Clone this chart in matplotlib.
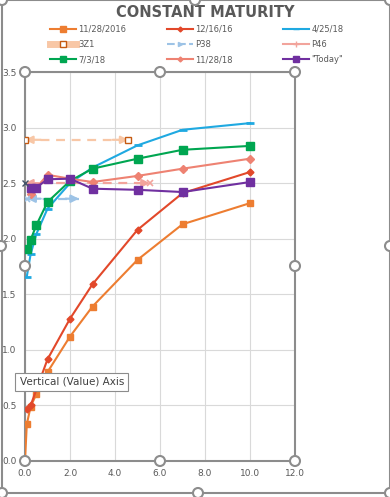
import matplotlib.pyplot as plt
from matplotlib.lines import Line2D
from matplotlib.patches import Rectangle, Circle

# maturities in years
x_2016 = [0.0, 0.08, 0.25, 0.5, 1, 2, 3, 5, 7, 10]
y_2016 = [0.0, 0.33, 0.49, 0.60, 0.80, 1.12, 1.39, 1.81, 2.13, 2.32]

x_dec16 = [0.08, 0.25, 1, 2, 3, 5, 7, 10]
y_dec16 = [0.47, 0.50, 0.915, 1.28, 1.59, 2.08, 2.41, 2.60]

x_apr18 = [0.08, 0.25, 0.5, 1, 2, 3, 5, 7, 10]
y_apr18 = [1.66, 1.86, 2.04, 2.27, 2.50, 2.64, 2.84, 2.98, 3.04]

x_jul18 = [0.08, 0.25, 0.5, 1, 2, 3, 5, 7, 10]
y_jul18 = [1.91, 1.99, 2.12, 2.33, 2.52, 2.63, 2.72, 2.80, 2.835]

x_nov18 = [0.25, 1, 2, 3, 5, 7, 10]
y_nov18 = [2.40, 2.575, 2.54, 2.51, 2.565, 2.63, 2.72]

x_today = [0.25, 0.5, 1, 2, 3, 5, 7, 10]
y_today = [2.46, 2.46, 2.535, 2.54, 2.45, 2.44, 2.42, 2.51]

x_3z1 = [0.0, 4.6]
y_3z1 = [2.89, 2.89]
x_p38 = [0.1, 2.4]
y_p38 = [2.36, 2.36]
x_p46 = [0.0, 5.55]
y_p46 = [2.50, 2.50]

xticks = [0, 2, 4, 6, 8, 10, 12]
yticks = [0.0, 0.5, 1.0, 1.5, 2.0, 2.5, 3.0, 3.5]

c_or = '#ED7D31'
c_red = '#E2482A'
c_blue = '#1FA9E1'
c_green = '#00A651'
c_salm = '#EE8272'
c_purp = '#7030A0'
c_peach = '#F8C7A6'
c_lblue = '#9DC3E6'
c_p46 = '#F2A49C'
grey = '#595959'

fig = plt.figure(figsize=(3.9, 4.97), dpi=100)
ax = fig.add_axes([25/390, 1-461/497, 270/390, 389/497])

lw = 1.5
ax.plot(x_2016, y_2016, color=c_or, lw=lw, marker='s', ms=4.5, zorder=3)
ax.plot(x_dec16, y_dec16, color=c_red, lw=lw, marker='D', ms=3.5, zorder=3)
ax.plot(x_apr18, y_apr18, color=c_blue, lw=lw, marker='_', ms=6, mew=2, zorder=3)
ax.plot(x_jul18, y_jul18, color=c_green, lw=lw, marker='s', ms=5.5, zorder=3)
ax.plot(x_nov18, y_nov18, color=c_salm, lw=lw, marker='D', ms=4, zorder=3)
ax.plot(x_today, y_today, color=c_purp, lw=lw, marker='s', ms=5.5, zorder=4)


def arrow_line(xs, ys, color, lw, head):
    ax.plot(xs, ys, color=color, lw=lw, ls=(0, (4, 3)), zorder=2)
    for a, b in [(xs[0], xs[0] + head), (xs[-1], xs[-1] - head)]:
        ax.annotate('', xy=(a, ys[0]), xytext=(b, ys[0]),
                    arrowprops=dict(arrowstyle='-|>', color=color, lw=lw,
                                    mutation_scale=11, shrinkA=0, shrinkB=0),
                    zorder=2)


arrow_line(x_3z1, y_3z1, c_peach, 1.6, 0.7)
ax.plot(x_3z1, y_3z1, ls='none', marker='s', ms=5, mfc='white', mec='#C55A11', mew=1, zorder=3)
arrow_line(x_p38, y_p38, c_lblue, 1.6, 0.6)
ax.plot(x_p38[:1], y_p38[:1], ls='none', marker='x', ms=5, color=c_lblue, mew=1.2, zorder=3)
arrow_line(x_p46, y_p46, c_p46, 1.6, 0.6)
ax.plot(x_p46[-1:], y_p46[-1:], ls='none', marker='x', ms=5, color=c_p46, mew=1.2, zorder=3)
ax.plot(x_p46[:1], y_p46[:1], ls='none', marker='x', ms=5, color='#44546A', mew=1, zorder=5, clip_on=False)

ax.set_xlim(0, 12)
ax.set_ylim(0, 3.5)
ax.set_xticks(xticks)
ax.set_yticks(yticks)
ax.set_xticklabels(['%.1f' % v for v in xticks])
ax.set_yticklabels(['%.1f' % v for v in yticks])
ax.tick_params(length=0, labelsize=6.5, colors=grey, pad=6)
ax.grid(True, color='#D9D9D9', lw=0.8)
ax.set_axisbelow(True)
for s in ax.spines.values():
    s.set_color('#8C8C8C')
    s.set_linewidth(1.5)

fig.text(0.525, 0.975, 'CONSTANT MATURITY', ha='center', va='center',
         fontsize=10.5, fontweight='bold', color=grey)

H = []
H.append(Line2D([], [], color=c_or, lw=lw, marker='s', ms=4))
H.append(Line2D([], [], color=c_peach, lw=5, marker='s', ms=4, mfc='white', mec='#C55A11'))
H.append(Line2D([], [], color=c_green, lw=lw, marker='s', ms=4))
H.append(Line2D([], [], color=c_red, lw=lw, marker='D', ms=2.5))
H.append(Line2D([], [], color=c_lblue, lw=lw, ls='--', marker='>', ms=3))
H.append(Line2D([], [], color=c_salm, lw=lw, marker='D', ms=2.5))
H.append(Line2D([], [], color=c_blue, lw=lw, marker='_', ms=4))
H.append(Line2D([], [], color=c_p46, lw=lw, marker='+', ms=4))
H.append(Line2D([], [], color=c_purp, lw=lw, marker='s', ms=4))
L = ['11/28/2016', '3Z1', '7/3/18', '12/16/16', 'P38', '11/28/18',
     '4/25/18', 'P46', '"Today"']
for k, xl in enumerate([44, 161, 277]):
    fig.legend(H[3*k:3*k+3], L[3*k:3*k+3], loc='upper left',
               bbox_to_anchor=(xl/390, 1-19/497), frameon=False,
               fontsize=6, labelcolor=grey, handlelength=3.1, handletextpad=0.3,
               labelspacing=0.75, borderpad=0.2)

# selection frame and handles drawn over everything
ov = fig.add_axes([0, 0, 1, 1], zorder=10)
ov.set_xlim(0, 390)
ov.set_ylim(497, 0)
ov.axis('off')
ov.patch.set_alpha(0)
ov.add_patch(Rectangle((2, 0), 388, 493, fill=False, ec='#8C8C8C', lw=1.5))
for hx, hy in [(2, 0), (195, 0), (390, 0), (1, 246), (390, 246), (2, 493), (198, 493), (390, 493),
               (25, 72), (160, 72), (295, 72), (25, 266), (295, 266), (25, 461), (160, 461), (295, 461)]:
    ov.add_patch(Circle((hx, hy), 5, fc='white', ec='#8C8C8C', lw=1.5, clip_on=False))
ov.add_patch(Rectangle((15, 373), 113, 18, fc='white', ec='#8C8C8C', lw=0.8))
ov.text(20, 382, 'Vertical (Value) Axis', fontsize=7.5, color='#404040', va='center')

fig.savefig('out.png', dpi=100)
